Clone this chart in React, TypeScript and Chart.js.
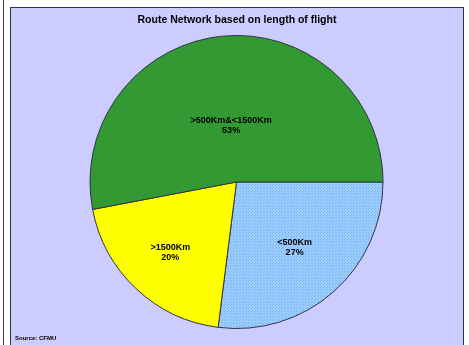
import React, { useEffect, useRef } from "react";
import { Chart, registerables } from "chart.js";

Chart.register(...registerables);

const categories = ["<500Km", ">1500Km", ">500Km&<1500Km"];
const shares = [27, 20, 53];
const percentLabels = ["27%", "20%", "53%"];
const labelRadiusFractions = [0.6, 0.66, 0.39];
const sliceColors = ["#99ccff", "#ffff00", "#339933"];
const titleText = "Route Network based on length of flight";
const sourceText = "Source: CFMU";

function makeDotPattern(base: string, dot: string): CanvasPattern | string {
  const c = document.createElement("canvas");
  c.width = 3;
  c.height = 3;
  const g = c.getContext("2d");
  if (!g) return base;
  g.fillStyle = base;
  g.fillRect(0, 0, 3, 3);
  g.fillStyle = dot;
  g.fillRect(0, 0, 1, 1);
  g.fillRect(1, 2, 1, 1);
  const p = g.createPattern(c, "repeat");
  return p || base;
}

const labelPlugin = {
  id: "sliceLabels",
  afterDatasetsDraw(chart: any) {
    const ctx = chart.ctx as CanvasRenderingContext2D;
    const meta = chart.getDatasetMeta(0);
    ctx.save();
    ctx.font = "bold 9px 'Liberation Sans', Arial, sans-serif";
    ctx.fillStyle = "#000";
    ctx.textAlign = "center";
    ctx.textBaseline = "middle";
    meta.data.forEach((arc: any, i: number) => {
      const p = arc.getProps(["x", "y", "startAngle", "endAngle", "outerRadius"], true);
      const mid = (p.startAngle + p.endAngle) / 2;
      const r = p.outerRadius * labelRadiusFractions[i];
      const x = p.x + Math.cos(mid) * r;
      const y = p.y + Math.sin(mid) * r;
      ctx.fillText(categories[i], x, y - 5);
      ctx.fillText(percentLabels[i], x, y + 5);
    });
    ctx.restore();
  },
};

export default function App() {
  const ref = useRef<HTMLCanvasElement | null>(null);
  useEffect(() => {
    if (!ref.current) return;
    const colors = sliceColors.map((c, i) =>
      i === 0 ? makeDotPattern(c, "#82b6ea") : c
    );
    const chart = new Chart(ref.current, {
      type: "pie",
      data: {
        labels: categories,
        datasets: [
          {
            data: shares,
            backgroundColor: colors as any,
            borderColor: "#333344",
            borderWidth: 1,
          },
        ],
      },
      options: {
        responsive: false,
        animation: false,
        rotation: 90,
        layout: { padding: { top: 27, bottom: 16, left: 0, right: 0 } },
        plugins: {
          legend: { display: false },
          tooltip: { enabled: false },
          title: { display: false },
        },
      },
      plugins: [labelPlugin],
    });
    return () => chart.destroy();
  }, []);

  return (
    <div
      style={{
        position: "fixed",
        left: 0,
        top: 0,
        width: 469,
        height: 345,
        background: "#ffffff",
        overflow: "hidden",
        fontFamily: "'Liberation Sans', Arial, sans-serif",
      }}
    >
      <div
        style={{
          position: "absolute",
          left: 3,
          top: 0,
          width: 1,
          height: 345,
          background: "#444455",
        }}
      />
      <div
        style={{
          position: "absolute",
          left: 10,
          top: 7,
          width: 452,
          height: 360,
          background: "#ccccff",
          border: "1px solid #333344",
        }}
      />
      <canvas
        ref={ref}
        width={451}
        height={337}
        style={{ position: "absolute", left: 11, top: 8, width: 451, height: 337 }}
      />
      <div
        style={{
          position: "absolute",
          left: 0,
          top: 13,
          width: 474,
          textAlign: "center",
          fontSize: 10.5,
          fontWeight: "bold",
          lineHeight: "12px",
          color: "#000",
        }}
      >
        {titleText}
      </div>
      <div
        style={{
          position: "absolute",
          left: 15,
          top: 334,
          fontSize: 6,
          fontWeight: "bold",
          lineHeight: "8px",
          color: "#000",
        }}
      >
        {sourceText}
      </div>
    </div>
  );
}
